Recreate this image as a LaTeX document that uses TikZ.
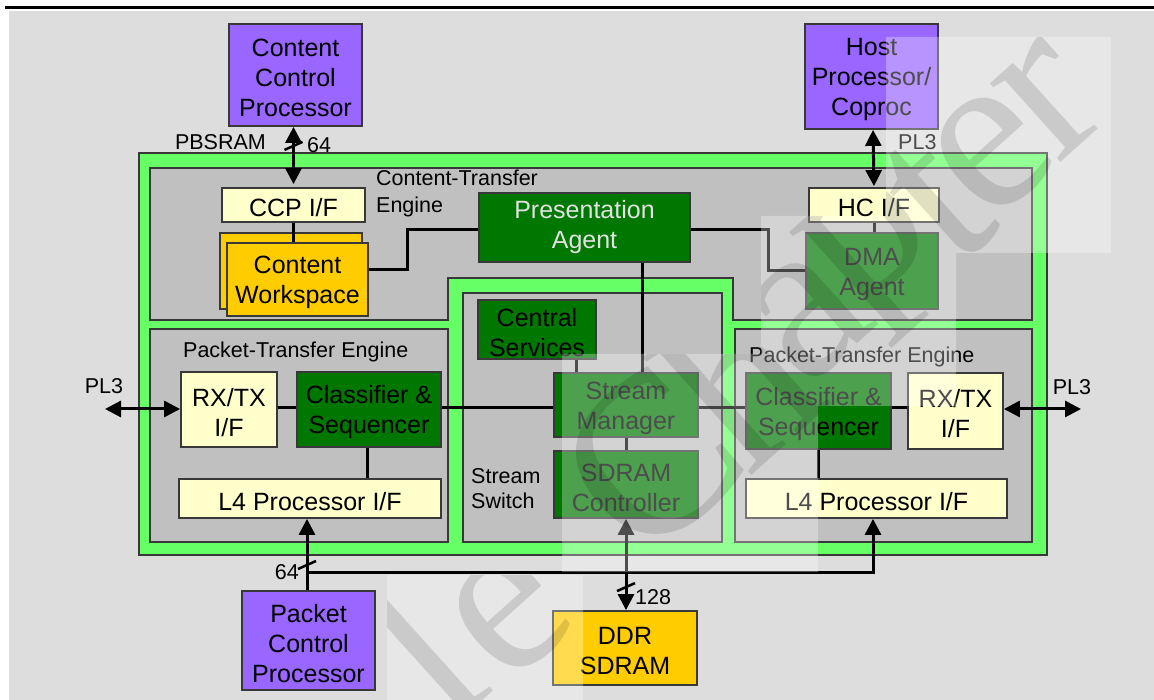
\documentclass[tikz,border=0pt]{standalone}
\usepackage{fontspec}
\setmainfont{Liberation Sans}
\newfontfamily\wmfont{Liberation Serif}
\usetikzlibrary{arrows.meta,calc}
\definecolor{bggrey}{HTML}{DDDDDD}
\definecolor{framegreen}{HTML}{66FF66}
\definecolor{engine}{HTML}{C0C0C0}
\definecolor{proc}{HTML}{9966FF}
\definecolor{agent}{HTML}{007700}
\definecolor{iface}{HTML}{FFFFCC}
\definecolor{store}{HTML}{FFCC00}
\definecolor{edge}{HTML}{383838}
\definecolor{paletext}{HTML}{E2E2E2}
% taller first line, so box text sits a little low
\newcommand\lift{\rule{0pt}{24pt}}

\begin{document}
\begin{tikzpicture}[x=1pt,y=-1pt,
  >={Triangle[length=16pt,width=16pt]},
  box/.style={draw=edge, line width=1.8pt, inner sep=0pt, align=center,
              font=\fontsize{25}{30}\selectfont},
  procbox/.style={box, fill=proc},
  ifbox/.style={box, fill=iface},
  agentbox/.style={box, fill=agent},
  storebox/.style={box, fill=store},
  region/.style={draw=edge, line width=2pt},
  lbl/.style={inner sep=0pt, font=\fontsize{21.5}{26}\selectfont},
  wire/.style={line width=3pt, draw=black},
  tick/.style={line width=2.5pt, draw=black},
  wmletter/.style={inner sep=0pt, rotate=42, text=black, opacity=0.12,
                   font=\wmfont\fontsize{230}{230}\selectfont},
]
\useasboundingbox (0,0) rectangle (1154,700);

% page background and rule
\fill[white] (0,0) rectangle (1154,700);
\fill[bggrey] (9,11) rectangle (1154,700);
\draw[line width=3pt] (5,8) -- (1154,8);

% chip outline and engine regions
\draw[region, fill=framegreen] (139,153) rectangle (1047,555);
\draw[region, fill=engine] (150,168) -- (1032,168) -- (1032,320) -- (733,320)
  -- (733,278) -- (448,278) -- (448,320) -- (150,320) -- cycle;
\draw[region, fill=engine] (463,293) rectangle (722,542);
\draw[region, fill=engine] (150,329) rectangle (448,542);
\draw[region, fill=engine] (735,329) rectangle (1032,542);

% region captions
\node[lbl, anchor=base west] (ctA) at (376,186) {Content-Transfer};
\node[lbl, anchor=base west] (ctB) at (376,213) {Engine};
\node[lbl, anchor=base west] (pteL) at (183,358) {Packet-Transfer Engine};
\node[lbl, anchor=base west] (pteR) at (749,363) {Packet-Transfer Engine};
\node[lbl, anchor=base west] (ssA) at (471,483) {Stream};
\node[lbl, anchor=base west] (ssB) at (471,508) {Switch};

% external devices
\node[procbox, minimum width=133pt, minimum height=102pt] (ccp) at (295.5,75) {\lift Content\\Control\\Processor};
\node[procbox, minimum width=133pt, minimum height=105pt] (host) at (871.5,76.5) {\lift Host\\Processor/\\Coproc};
\node[procbox, minimum width=133pt, minimum height=99pt] (pcp) at (308.5,640.5) {\lift Packet\\Control\\Processor};
\node[storebox, minimum width=144pt, minimum height=74pt] (ddr) at (625,648) {\lift DDR\\SDRAM};

% content-transfer engine
\node[ifbox, minimum width=143pt, minimum height=34pt] (ccpif) at (293.5,205) {\lift CCP I/F};
\node[storebox, minimum width=142pt, minimum height=76pt] (cwsb) at (291,271) {};
\node[storebox, minimum width=141pt, minimum height=73pt] (cws) at (297.5,279.5) {\lift Content\\Workspace};
\node[ifbox, minimum width=130pt, minimum height=34pt] (hcif) at (874,205) {\lift HC I/F};
\node[agentbox, minimum width=132pt, minimum height=76pt] (dma) at (872,271) {\lift DMA\\Agent};
\node[agentbox, text=paletext, minimum width=211pt, minimum height=69pt] (pa) at (584.5,227.5) {Presentation\\Agent};

% stream switch
\node[agentbox, minimum width=118pt, minimum height=59pt] (cs) at (537,329.5) {\lift Central\\Services};
\node[agentbox, minimum width=144pt, minimum height=64pt] (sm) at (626,405) {\lift Stream\\Manager};
\node[agentbox, minimum width=144pt, minimum height=67pt] (sdc) at (626,484.5) {\lift SDRAM\\Controller};

% packet-transfer engines
\node[ifbox, minimum width=96pt, minimum height=75pt] (rxl) at (229,409.5) {\lift RX/TX\\I/F};
\node[agentbox, minimum width=144pt, minimum height=75pt] (csl) at (369,409.5) {\lift Classifier \&\\Sequencer};
\node[ifbox, minimum width=262pt, minimum height=39pt] (l4l) at (310,498.5) {\lift L4 Processor I/F};
\node[agentbox, minimum width=145pt, minimum height=76pt] (csr) at (818.5,411) {\lift Classifier \&\\Sequencer};
\node[ifbox, minimum width=95pt, minimum height=76pt] (rxr) at (955.5,411) {\lift RX/TX\\I/F};
\node[ifbox, minimum width=261pt, minimum height=39pt] (l4r) at (876.5,498.5) {\lift L4 Processor I/F};

% junction points and free ends
\coordinate (row) at (0,408);
\coordinate (j1) at (407,230);
\coordinate (j2) at (768,230);
\coordinate (bus) at (307,572);
\coordinate (pl3l) at (105,409);
\coordinate (pl3r) at (1081,409);

% internal connections
\draw[wire] (ccpif.south) -- (ccpif.south |- cws.north);
\draw[wire] ($(cws.east)+(0,-9.5)$) -| (j1) -- (j1 -| pa.west);
\draw[wire] (j2 -| pa.east) -- (j2) |- (dma.west);
\draw[wire] (hcif.south) -- (hcif.south |- dma.north);
\draw[wire] ([xshift=57.5pt]pa.south) -- ([xshift=57.5pt]pa.south |- sm.north);
\draw[wire] ([xshift=39pt]cs.south) -- ([xshift=39pt]cs.south |- sm.north);
\draw[wire] (sm.south) -- (sdc.north);
\draw[wire] (rxl.east |- row) -- (csl.west |- row);
\draw[wire] (csl.east |- row) -- (sm.west |- row);
\draw[wire] (sm.east |- row) -- (csr.west |- row);
\draw[wire] (csr.east |- row) -- (rxr.west |- row);
\draw[wire] ([xshift=-2pt]csl.south) -- ([xshift=-2pt]csl.south |- l4l.north);
\draw[wire] (csr.south) -- (csr.south |- l4r.north);

% external buses
\draw[wire, <->] (ccpif.north |- ccp.south) -- ([yshift=3pt]ccpif.north);
\draw[wire, <->] ([xshift=1.5pt]host.south) -- ([yshift=1pt]hcif.north);
\draw[wire, <->] (pl3l) -- (rxl.west |- pl3l);
\draw[wire, <->] (rxr.east |- pl3r) -- (pl3r);
\draw[wire, <->] (sdc.south) -- (sdc.south |- ddr.north);
\draw[wire, ->] ([xshift=-1.5pt]pcp.north) -- ([xshift=-1.5pt]pcp.north |- l4l.south);
\draw[wire, ->] (bus) -| ([xshift=-3.5pt]l4r.south);

% bus width marks
\path (ccpif.north |- ccp.south) ++(0,19) coordinate (m1);
\draw[tick] (m1) +(-9,4) -- +(9,-4);
\path (bus) ++(0,-7) coordinate (m2);
\draw[tick] (m2) +(-9,4) -- +(9,-4);
\path (sdc.south |- ddr.north) ++(0,-23) coordinate (m3);
\draw[tick] (m3) +(-9,4) -- +(9,-4);

% bus captions
\node[lbl, anchor=base east] (pbsram) at (266,150) {PBSRAM};
\node[lbl, anchor=base west] (w64a) at (307,153) {64};
\node[lbl, anchor=east] (w64b) at (299,572) {64};
\node[lbl, anchor=west] (w128) at (635,597) {128};
\node[lbl, anchor=base west] (pl3t) at (898,150) {PL3};
\node[lbl] (pl3lt) at (104,386) {PL3};
\node[lbl] (pl3rt) at (1072,387) {PL3};

% watermark: lightened tiles with faint lettering
\fill[white, opacity=0.3]
  (886,37) rectangle (1111,253)
  (761,216) rectangle (956,406)
  (562,354) rectangle (818,572)
  (387,575) rectangle (583,700);
\begin{scope}
  \clip (886,37) rectangle (1111,253)
        (761,216) rectangle (956,406)
        (562,354) rectangle (818,572)
        (387,575) rectangle (583,700);
  \node[wmletter] (wl) at (420,650) {l};
  \node[wmletter] (we1) at (510,615) {e};
  \node[wmletter] (wC) at (650,460) {C};
  \node[wmletter] (wh) at (738,381) {h};
  \node[wmletter] (wa) at (808,317) {a};
  \node[wmletter] (wp) at (879,254) {p};
  \node[wmletter] (wt) at (938,201) {t};
  \node[wmletter] (we2) at (992,153) {e};
  \node[wmletter] (wr) at (1050,100) {r};
\end{scope}
\end{tikzpicture}
\end{document}
